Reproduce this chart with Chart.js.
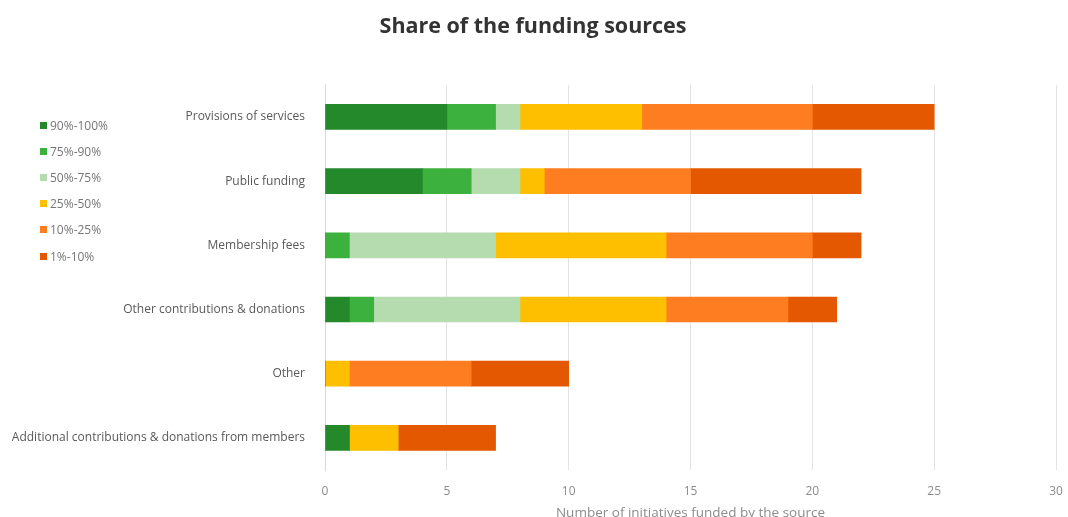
<!DOCTYPE html>
<html>
<head>
<meta charset="utf-8">
<script src="https://cdn.jsdelivr.net/npm/chart.js@4"></script>
<style>
  html, body { margin: 0; padding: 0; background: #fff; }
  #wrap { position: relative; width: 1068px; height: 517px; }
  #legend { position: absolute; left: 40px; top: 112px; font-family: "Open Sans", sans-serif; font-size: 12px; color: #767676; }
  #legend .item { display: flex; align-items: center; height: 26.2px; }
  #legend .sw { width: 7px; height: 7px; margin-right: 3px; }
</style>
</head>
<body>
<div id="wrap">
  <canvas id="fundingChart" width="1068" height="517"></canvas>
  <div id="legend"></div>
</div>
<script>
const categories = [
  "Provisions of services",
  "Public funding",
  "Membership fees",
  "Other contributions & donations",
  "Other",
  "Additional contributions & donations from members",
];

const shareBands = ["90%-100%", "75%-90%", "50%-75%", "25%-50%", "10%-25%", "1%-10%"];
const bandColors = ["#23892b", "#3db13d", "#b4dcae", "#fdbf00", "#fd7d20", "#e35800"];

// initiatives per source, one list per share band
const band90to100 = [5, 4, 0, 1, 0, 1];
const band75to90 = [2, 2, 1, 1, 0, 0];
const band50to75 = [1, 2, 6, 6, 0, 0];
const band25to50 = [5, 1, 7, 6, 1, 2];
const band10to25 = [7, 6, 6, 5, 5, 0];
const band1to10 = [5, 7, 2, 2, 4, 4];

const xTicks = [0, 5, 10, 15, 20, 25, 30];

const bandValues = [band90to100, band75to90, band50to75, band25to50, band10to25, band1to10];

const datasets = shareBands.map((label, i) => ({
  label,
  data: bandValues[i],
  backgroundColor: bandColors[i],
  borderWidth: 0,
  barThickness: 25,
}));

const legend = document.getElementById("legend");
legend.innerHTML = shareBands
  .map(
    (label, i) => `
    <div class="item">
      <div class="sw" style="background-color: ${bandColors[i]}"></div>
      <span>${label}</span>
    </div>`,
  )
  .join("");

const labelFont = { family: "Open Sans", size: 12 };

new Chart(document.getElementById("fundingChart"), {
  type: "bar",
  data: { labels: categories, datasets },
  options: {
    indexAxis: "y",
    responsive: false,
    animation: false,
    layout: { padding: { left: 10, right: 12, top: 0, bottom: 0 } },
    plugins: {
      legend: { display: false },
      tooltip: { enabled: false },
      title: {
        display: true,
        text: "Share of the funding sources",
        color: "#333",
        font: { family: "Open Sans", size: 21.5, weight: "bold" },
        padding: { top: 14, bottom: 45 },
      },
    },
    scales: {
      x: {
        stacked: true,
        min: 0,
        max: 30,
        afterBuildTicks: (scale) => {
          scale.ticks = xTicks.map((v) => ({ value: v }));
        },
        afterFit: (scale) => {
          scale.height = 47;
          scale.paddingLeft = 0;
          scale.paddingRight = 0;
        },
        grid: { color: "#e3e3e3", drawTicks: false },
        border: { display: false },
        ticks: { color: "#8c8c8c", font: labelFont, padding: 14 },
        title: {
          display: true,
          text: "Number of initiatives funded by the source",
          color: "#8c8c8c",
          font: { family: "Open Sans", size: 13.5 },
          padding: { top: 0, bottom: -4 },
        },
      },
      y: {
        stacked: true,
        afterFit: (scale) => {
          scale.width = 315;
        },
        grid: { display: false },
        border: { color: "#d9d9d9" },
        ticks: { color: "#595959", font: labelFont, padding: 12 },
      },
    },
  },
});
</script>
</body>
</html>
